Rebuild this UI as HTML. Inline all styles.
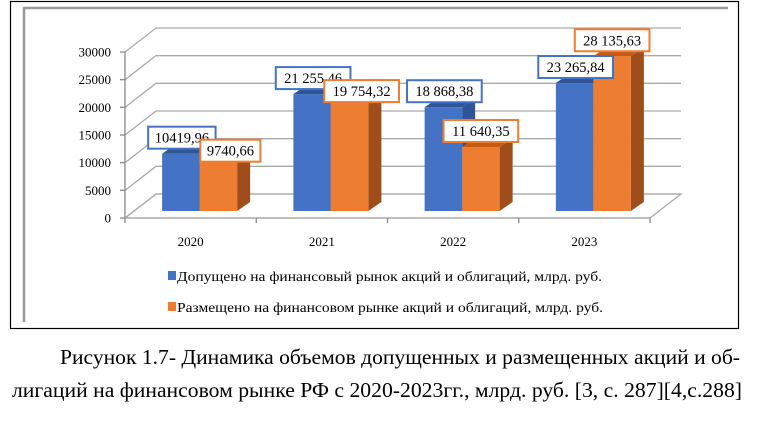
<!DOCTYPE html>
<html><head><meta charset="utf-8"><style>
body{margin:0;background:#fff;width:763px;height:429px;overflow:hidden}
svg{display:block}
text{font-family:"Liberation Serif",serif;fill:#000}
</style></head><body>
<svg width="763" height="429" viewBox="0 0 763 429">
<rect x="10.5" y="1.5" width="728" height="327" fill="#fff" stroke="#000" stroke-width="1.2"/>
<path d="M24 322 V8 H728" fill="none" stroke="#999" stroke-width="2.5"/>
<g id="axes"></g>
<g id="bars"></g>
<g id="labels"></g>
<g>
<rect x="168" y="271" width="8" height="9" fill="#4472c4"/>
<text x="177" y="281" font-size="14" textLength="425" lengthAdjust="spacingAndGlyphs">Допущено на финансовый рынок акций и облигаций, млрд. руб.</text>
<rect x="168" y="302" width="8" height="9" fill="#ed7d31"/>
<text x="177" y="312" font-size="14" textLength="426" lengthAdjust="spacingAndGlyphs">Размещено на финансовом рынке акций и облигаций, млрд. руб.</text>
</g>
<text x="60" y="364" font-size="21" textLength="680" lengthAdjust="spacingAndGlyphs">Рисунок 1.7- Динамика объемов допущенных и размещенных акций и об-</text>
<text x="12" y="397" font-size="21" textLength="730" lengthAdjust="spacingAndGlyphs">лигаций на финансовом рынке РФ с 2020-2023гг., млрд. руб. [3, с. 287][4,с.288]</text>
</svg>
<script>
const categories=["2020","2021","2022","2023"];
const admitted=[10419.96,21255.46,18868.38,23265.84];
const placed=[9740.66,19754.32,11640.35,28135.63];
const admittedLabels=["10419,96","21 255,46","18 868,38","23 265,84"];
const placedLabels=["9740,66","19 754,32","11 640,35","28 135,63"];
const ticks=[0,5000,10000,15000,20000,25000,30000];

const NS="http://www.w3.org/2000/svg";
function mk(tag,attrs,parent){const e=document.createElementNS(NS,tag);for(const k in attrs)e.setAttribute(k,attrs[k]);parent.appendChild(e);return e;}
const axX0=125,axX1=650,axY0=218,frontScale=166/30000;
const DX=31,DY=-24;
const yFront=v=>axY0-v*frontScale;
const barBase=211,barScale=5.5/1000;
const yBar=v=>barBase-v*barScale;
const catW=(axX1-axX0)/categories.length;
const cx=i=>axX0+catW*(i+0.5)+9;
const axes=document.getElementById('axes');
const fl=mk('path',{d:`M${axX0} ${axY0} L${axX0+DX} ${axY0+DY} L${axX1+DX} ${axY0+DY} L${axX1} ${axY0}`,fill:'none',stroke:'#aaa','stroke-width':1.3},axes);


ticks.forEach(t=>{
  const y=yFront(t);
  const g=mk('path',{d:`M${axX0} ${y} L${axX0+DX} ${y+DY} L${axX1+DX} ${y+DY}`,fill:'none',stroke:'#aaa','stroke-width':1.3},axes);
  
  
  mk('line',{x1:axX0-5,y1:y,x2:axX0,y2:y,stroke:'#888','stroke-width':1.3},axes);
  const tx=mk('text',{x:axX0-14,y:y+4.5,'font-size':13,'text-anchor':'end'},axes);
  tx.textContent=t;
  
  
});
const ya=mk('line',{x1:axX0,y1:yFront(30000),x2:axX0,y2:axY0,stroke:'#888','stroke-width':1.3},axes);


const xa=mk('line',{x1:axX0,y1:axY0,x2:axX1,y2:axY0,stroke:'#aaa','stroke-width':1.5},axes);


for(let i=0;i<=categories.length;i++){const x=axX0+catW*i;mk('line',{x1:x,y1:axY0,x2:x,y2:axY0+5,stroke:'#888','stroke-width':1.3},axes);}
categories.forEach((c,i)=>{
  const t=mk('text',{x:axX0+catW*(i+0.5),y:246,'font-size':13,'text-anchor':'middle'},axes);
  t.textContent=c;
  
  
});
const bars=document.getElementById('bars'),labels=document.getElementById('labels');
const bw=37.5,ddx=13,ddy=-9;
function bar(x,v,front,top,side,name){
  const y=yBar(v);
  const g=mk('g',{},bars);
  
  
  mk('path',{d:`M${x+bw} ${barBase} L${x+bw+ddx} ${barBase+ddy} L${x+bw+ddx} ${y+ddy} L${x+bw} ${y}Z`,fill:side},g);
  mk('path',{d:`M${x} ${y} L${x+ddx} ${y+ddy} L${x+bw+ddx} ${y+ddy} L${x+bw} ${y}Z`,fill:top},g);
  mk('rect',{x:x,y:y,width:bw,height:barBase-y,fill:front},g);
}
function label(cxp,cy,txt,col,name){
  const g=mk('g',{},labels);
  
  
  const w=txt.length*7.3+9;
  mk('rect',{x:cxp-w/2,y:cy-11,width:w,height:22,fill:'#fff',stroke:col,'stroke-width':2},g);
  const t=mk('text',{x:cxp,y:cy+5,'font-size':14.5,'text-anchor':'middle'},g);
  t.textContent=txt;
}
categories.forEach((c,i)=>{
  const x=cx(i);
  bar(x-bw,admitted[i],'#4472c4','#2f5597','#2f5597','bar-admitted-'+c);
  bar(x,placed[i],'#ed7d31','#c55a11','#9e4d1b','bar-placed-'+c);
});
categories.forEach((c,i)=>{
  const x=cx(i);
  const by=yBar(admitted[i])-16;
  let oy=yBar(placed[i])-16, ox=x+bw/2;
  if(Math.abs(oy-by)<22){oy=by+(oy>=by-4?13:-13);ox+=12;}
  label(x-bw/2+1,by,admittedLabels[i],'#4472c4','label-admitted-'+c);
  label(ox,oy,placedLabels[i],'#ed7d31','label-placed-'+c);
});
</script>
</body></html>
